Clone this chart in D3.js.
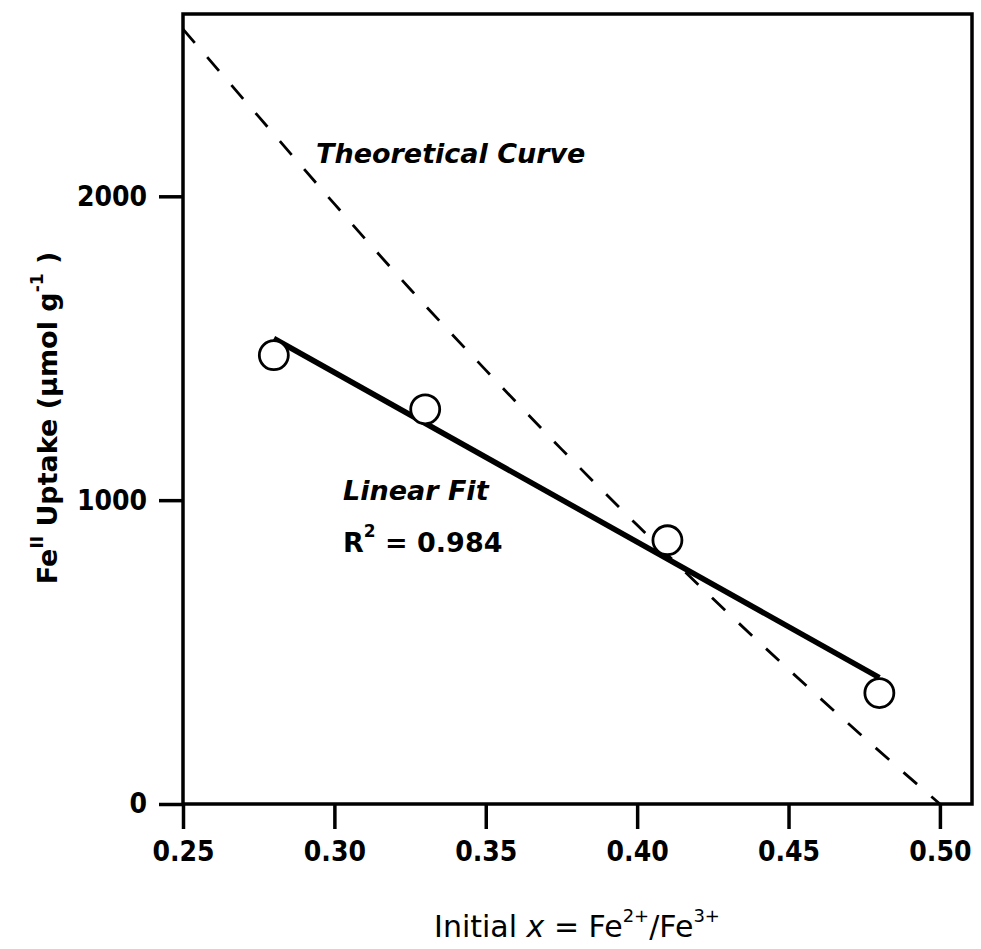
<!DOCTYPE html>
<html><head><meta charset="utf-8">
<script src="https://cdn.jsdelivr.net/npm/d3@7"></script>
<style>
html,body{margin:0;padding:0;background:#fff;}
svg{display:block;}
</style></head>
<body>
<svg id="chart" width="981" height="949"></svg>
<script>
// ---- data ----
const xTicks = [0.25, 0.30, 0.35, 0.40, 0.45, 0.50];
const yTicks = [0, 1000, 2000];
const pointX = [0.28, 0.33, 0.41, 0.48];
const pointY = [1477, 1299, 868, 365];
const fitX = [0.28, 0.48];
const fitY = [1532, 416];
const theoryX = [0.25, 0.275, 0.30, 0.325, 0.35, 0.375, 0.40, 0.425, 0.45, 0.475, 0.50];
const theoryY = [2550, 2262, 1975, 1695, 1428, 1168, 918, 676, 443, 218, 0];

const W = 981, H = 949;
const L = 183, R = 972, T = 14, B = 804;
const svg = d3.select("#chart");
const x = d3.scaleLinear().domain([0.25, 0.5106]).range([L, R]);
const y = d3.scaleLinear().domain([0, 2600]).range([B, T]);

const condFont = "'DejaVu Sans Condensed', 'DejaVu Sans', sans-serif";
const wideFont = "'DejaVu Sans', sans-serif";

// theoretical curve (dashed)
const theory = theoryX.map((v, i) => [v, theoryY[i]]);
svg.append("path")
  .attr("d", d3.line().x(d => x(d[0])).y(d => y(d[1])).curve(d3.curveMonotoneX)(theory))
  .attr("fill", "none").attr("stroke", "#000").attr("stroke-width", 2.8)
  .attr("stroke-dasharray", "18,19");

// linear fit
const fit = fitX.map((v, i) => [v, fitY[i]]);
svg.append("path")
  .attr("d", d3.line().x(d => x(d[0])).y(d => y(d[1]))(fit))
  .attr("fill", "none").attr("stroke", "#000").attr("stroke-width", 5.5);

// points
svg.append("g").selectAll("circle").data(pointX.map((v, i) => [v, pointY[i]]))
  .join("circle")
  .attr("cx", d => x(d[0])).attr("cy", d => y(d[1])).attr("r", 14.5)
  .attr("fill", "#fff").attr("stroke", "#000").attr("stroke-width", 2.8);

// frame
svg.append("rect").attr("x", L).attr("y", T).attr("width", R - L).attr("height", B - T)
  .attr("fill", "none").attr("stroke", "#000").attr("stroke-width", 3.5);

// axes
const xAxis = svg.append("g").attr("transform", `translate(0,${B})`)
  .call(d3.axisBottom(x).tickValues(xTicks).tickFormat(d3.format(".2f")).tickSize(25).tickPadding(12));
const yAxis = svg.append("g").attr("transform", `translate(${L},0)`)
  .call(d3.axisLeft(y).tickValues(yTicks).tickFormat(d3.format("d")).tickSize(24).tickPadding(12));
[xAxis, yAxis].forEach(g => {
  g.select(".domain").remove();
  g.selectAll(".tick line").attr("stroke", "#000").attr("stroke-width", 3.5);
  g.selectAll(".tick text").attr("fill", "#000")
    .style("font-family", condFont).style("font-weight", "bold").style("font-size", "28px");
});

// x axis title
const xt = svg.append("text").attr("x", 577).attr("y", 937).attr("text-anchor", "middle")
  .style("font-family", wideFont).style("font-size", "30px").attr("fill", "#000");
xt.append("tspan").text("Initial ");
xt.append("tspan").text("x").style("font-style", "italic");
xt.append("tspan").text(" = Fe");
xt.append("tspan").text("2+").attr("dy", -15).style("font-size", "18px");
xt.append("tspan").text("/Fe").attr("dy", 15);
xt.append("tspan").text("3+").attr("dy", -15).style("font-size", "18px");

// y axis title
const yt = svg.append("text").attr("transform", "translate(57,418) rotate(-90)").attr("text-anchor", "middle")
  .style("font-family", wideFont).style("font-weight", "bold").style("font-size", "27px").attr("fill", "#000");
yt.append("tspan").text("Fe");
yt.append("tspan").text("II").attr("dy", -14).style("font-size", "17px");
yt.append("tspan").text(" Uptake (µmol g").attr("dy", 14);
yt.append("tspan").text("-1").attr("dy", -14).style("font-size", "17px");
yt.append("tspan").text(" )").attr("dy", 14);

// annotations
svg.append("text").attr("x", 316).attr("y", 163).text("Theoretical Curve")
  .style("font-family", wideFont).style("font-style", "italic").style("font-weight", "bold")
  .style("font-size", "27px").attr("fill", "#000");
svg.append("text").attr("x", 343).attr("y", 500).text("Linear Fit")
  .style("font-family", wideFont).style("font-style", "italic").style("font-weight", "bold")
  .style("font-size", "27px").attr("fill", "#000");
const r2 = svg.append("text").attr("x", 343).attr("y", 552)
  .style("font-family", wideFont).style("font-weight", "bold")
  .style("font-size", "27px").attr("fill", "#000");
r2.append("tspan").text("R");
r2.append("tspan").text("2").attr("dy", -15).style("font-size", "17px");
r2.append("tspan").text(" = 0.984").attr("dy", 15);
</script>
</body></html>
